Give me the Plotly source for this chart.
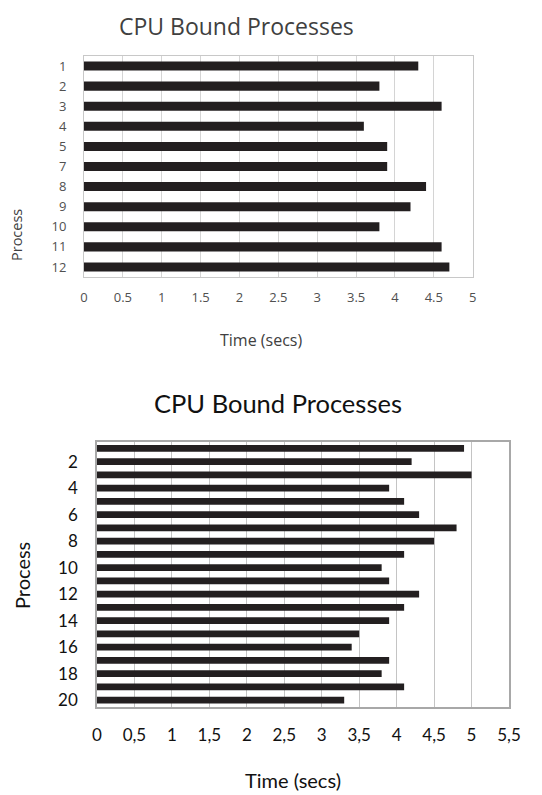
import plotly.graph_objects as go

# page body adds an 8px margin, so the figure is drawn 8px in from the window corner
OFF = 8
WIN_W, WIN_H = 542, 795
W, H = WIN_W - OFF, WIN_H - OFF

# ---- data ----
procs_top = ["1", "2", "3", "4", "5", "7", "8", "9", "10", "11", "12"]
times_top = [4.3, 3.8, 4.6, 3.6, 3.9, 3.9, 4.4, 4.2, 3.8, 4.6, 4.7]
xticks_top = [0, 0.5, 1, 1.5, 2, 2.5, 3, 3.5, 4, 4.5, 5]
xticktext_top = ["0", "0.5", "1", "1.5", "2", "2.5", "3", "3.5", "4", "4.5", "5"]

procs_bot = [str(i) for i in range(1, 21)]
times_bot = [4.9, 4.2, 5.0, 3.9, 4.1, 4.3, 4.8, 4.5, 4.1, 3.8,
             3.9, 4.3, 4.1, 3.9, 3.5, 3.4, 3.9, 3.8, 4.1, 3.3]
yticks_bot = ["2", "4", "6", "8", "10", "12", "14", "16", "18", "20"]
xticks_bot = [0, 0.5, 1, 1.5, 2, 2.5, 3, 3.5, 4, 4.5, 5, 5.5]
xticktext_bot = ["0", "0,5", "1", "1,5", "2", "2,5", "3", "3,5", "4", "4,5", "5", "5,5"]

title_text = "CPU Bound Processes"
xlabel = "Time (secs)"
ylabel = "Process"

BAR = "#231f20"
F1 = "Open Sans"
F2 = "Lato"


def px_x(p):
    return (p - OFF) / W


def px_y(p):
    return 1 - (p - OFF) / H


fig = go.Figure()
fig.add_trace(go.Bar(x=times_top, y=procs_top, orientation="h", width=0.45,
                     marker=dict(color=BAR, line=dict(width=0)),
                     xaxis="x", yaxis="y", showlegend=False))
fig.add_trace(go.Bar(x=times_bot, y=procs_bot, orientation="h", width=0.5,
                     marker=dict(color=BAR, line=dict(width=0)),
                     xaxis="x2", yaxis="y2", showlegend=False))

fig.update_layout(
    width=W, height=H,
    margin=dict(l=0, r=0, t=0, b=0),
    paper_bgcolor="white", plot_bgcolor="white",
    bargap=0.5,
    xaxis=dict(domain=[px_x(84), px_x(472.7)], range=[0, 5], automargin=False,
               tickvals=xticks_top, ticktext=xticktext_top,
               showgrid=True, gridcolor="#d4d4d4", gridwidth=1,
               showline=True, linecolor="#c8c8c8", linewidth=1, mirror=True,
               zeroline=False, ticks="outside", ticklen=8, tickcolor="rgba(0,0,0,0)",
               tickfont=dict(family=F1, size=13, color="#505050"),
               anchor="y", fixedrange=True),
    yaxis=dict(domain=[px_y(277), px_y(56)], type="category", automargin=False,
               categoryorder="array", categoryarray=procs_top,
               autorange="reversed",
               showgrid=False, showline=True, linecolor="#c8c8c8", linewidth=1, mirror=True,
               ticks="outside", ticklen=14, tickcolor="rgba(0,0,0,0)",
               tickfont=dict(family=F1, size=13, color="#505050"),
               anchor="x", fixedrange=True),
    xaxis2=dict(domain=[px_x(97), px_x(509)], range=[0, 5.5], automargin=False,
                tickvals=xticks_bot, ticktext=xticktext_bot,
                showgrid=True, gridcolor="#c4c4c4", gridwidth=1.3,
                showline=True, linecolor="#a8a8a8", linewidth=1.5, mirror=True,
                zeroline=False, ticks="outside", ticklen=12, tickcolor="rgba(0,0,0,0)",
                tickfont=dict(family=F2, size=17, color="#111111"),
                anchor="y2", fixedrange=True),
    yaxis2=dict(domain=[px_y(706.7), px_y(441.7)], type="category", automargin=False,
                categoryorder="array", categoryarray=procs_bot,
                autorange="reversed", tickvals=yticks_bot, ticktext=yticks_bot,
                showgrid=False, showline=True, linecolor="#a8a8a8", linewidth=1.5, mirror=True,
                ticks="outside", ticklen=14, tickcolor="rgba(0,0,0,0)",
                tickfont=dict(family=F2, size=17, color="#111111"),
                anchor="x2", fixedrange=True),
)

ann = [
    dict(text=title_text, x=px_x(236), y=1.0, yanchor="top", font=dict(family=F1, size=23, color="#404040")),
    dict(text=xlabel, x=px_x(261), y=px_y(340), font=dict(family=F1, size=16, color="#404040")),
    dict(text=ylabel, x=px_x(16), y=px_y(235), textangle=-90, font=dict(family=F1, size=14.5, color="#404040")),
    dict(text=title_text, x=px_x(278), y=px_y(403), font=dict(family=F2, size=25.5, color="#111111")),
    dict(text=xlabel, x=px_x(293), y=px_y(780), font=dict(family=F2, size=20, color="#111111")),
    dict(text=ylabel, x=px_x(22), y=px_y(576), textangle=-90, font=dict(family=F2, size=20, color="#111111")),
]
for a in ann:
    a.setdefault("yanchor", "middle")
    a.update(xref="paper", yref="paper", xanchor="center", showarrow=False)
fig.update_layout(annotations=ann)

fig.write_html("out.html")
